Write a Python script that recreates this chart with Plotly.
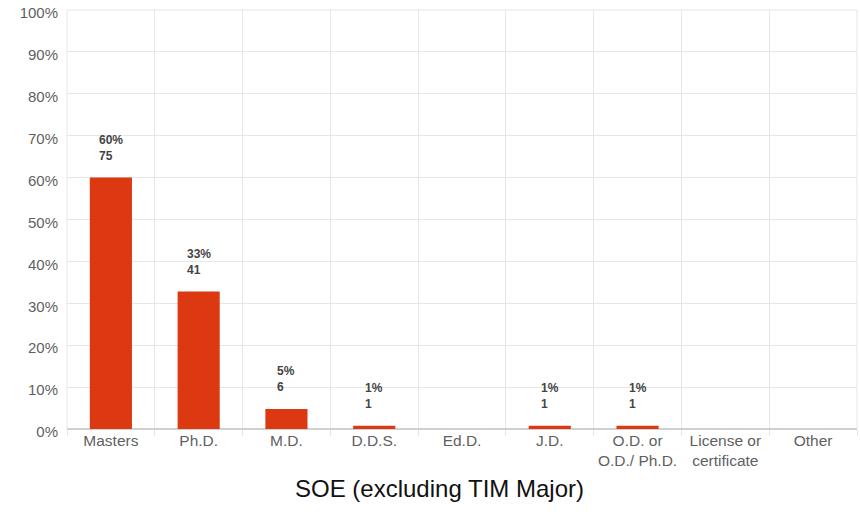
import plotly.graph_objects as go

categories = ["Masters", "Ph.D.", "M.D.", "D.D.S.", "Ed.D.", "J.D.",
              "O.D. or<br>O.D./ Ph.D.", "License or<br>certificate", "Other"]
percent = [60, 32.8, 4.8, 0.8, 0, 0.8, 0.8, 0, 0]
pct_labels = ["60%", "33%", "5%", "1%", "", "1%", "1%", "", ""]
counts = [75, 41, 6, 1, 0, 1, 1, 0, 0]
y_ticks = [0, 10, 20, 30, 40, 50, 60, 70, 80, 90, 100]
y_ticktext = [f"{v}%" for v in y_ticks]
title = "SOE (excluding TIM Major)"

FONT = "Liberation Sans, Arial, sans-serif"
xs = list(range(len(categories)))
fig = go.Figure()
fig.add_trace(go.Bar(x=xs, y=percent, width=0.48, marker=dict(color="#dc3912", line=dict(width=0)),
                     hoverinfo="skip"))

for i, (p, c, lab) in enumerate(zip(percent, counts, pct_labels)):
    if c > 0:
        fig.add_annotation(x=i, y=p, text=f"<b>{lab}</b><br><b>{c}</b>", showarrow=False, align="left",
                           xanchor="center", yanchor="bottom", yshift=13,
                           font=dict(family=FONT, size=12, color="#444444"))

fig.add_annotation(x=0.472, y=-0.141, xref="paper", yref="paper", yanchor="middle", text=title,
                   showarrow=False, font=dict(family=FONT, size=24, color="#111111"))

fig.update_layout(
    width=860, height=530,
    margin=dict(l=67, r=3, t=10, b=101, autoexpand=False),
    plot_bgcolor="white", paper_bgcolor="white",
    showlegend=False,
    xaxis=dict(range=[-0.5, len(categories) - 0.5], tickvals=xs, ticktext=categories,
               showgrid=False, zeroline=False, showline=False, ticks="",
               tickfont=dict(family=FONT, size=15.5, color="#5f5f5f"),
               minor=dict(showgrid=True, gridcolor="#e6e6e6", gridwidth=1, tick0=0.5, dtick=1,
                          ticks="outside", ticklen=6, tickcolor="#e6e6e6")),
    yaxis=dict(range=[0, 100], tickvals=y_ticks, ticktext=y_ticktext, showgrid=True,
               gridcolor="#e6e6e6", zeroline=True, zerolinecolor="#d0d0d0", showline=False,
               ticks="", ticklen=0, ticklabelshift=3, ticklabelstandoff=8,
               ticklabeloverflow="allow",
               tickfont=dict(family=FONT, size=15, color="#5f5f5f")),
)
for x0, x1, y0, y1 in [(0, 0, 0, 1), (1, 1, 0, 1), (0, 1, 1, 1)]:
    fig.add_shape(type="line", xref="paper", yref="paper", x0=x0, x1=x1, y0=y0, y1=y1,
                  line=dict(color="#e6e6e6", width=1))
fig.write_html("out.html", config={"displayModeBar": False},
               post_script="document.body.style.margin='0';")
